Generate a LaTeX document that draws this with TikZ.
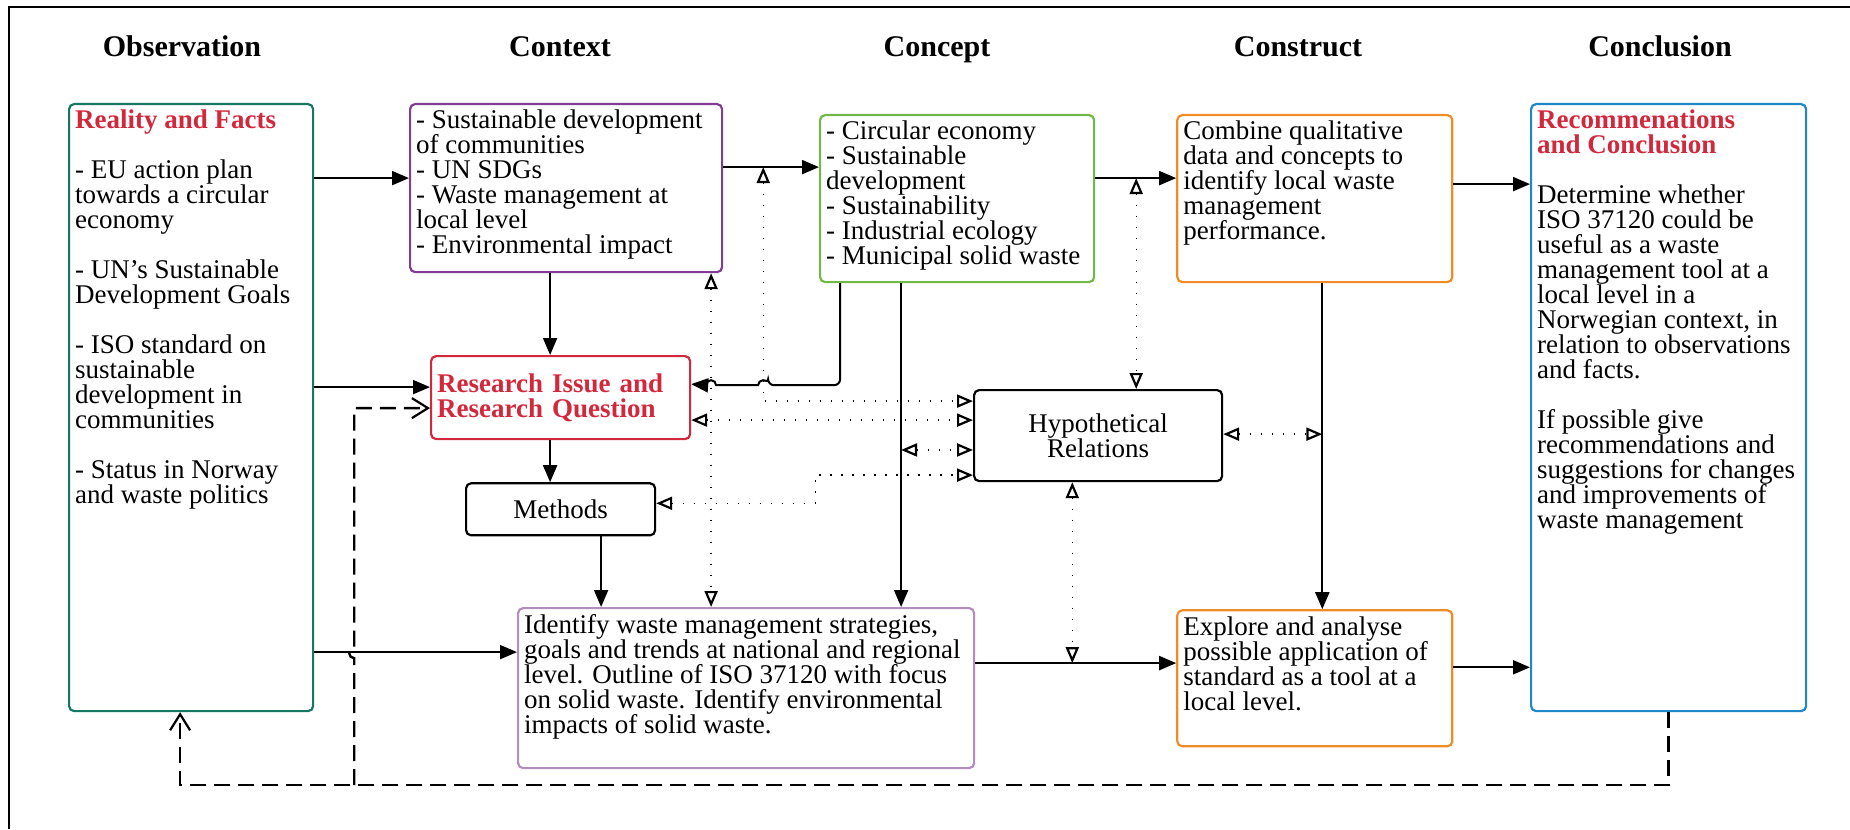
\documentclass[tikz,border=0pt]{standalone}
\usepackage{fontspec}
\setmainfont{Liberation Serif}
\usepackage{tikz}
\usetikzlibrary{arrows.meta, positioning, calc}

\definecolor{obsgreen}{RGB}{22,120,98}
\definecolor{ctxpurple}{RGB}{130,60,150}
\definecolor{cptgreen}{RGB}{112,185,70}
\definecolor{cstorange}{RGB}{240,140,40}
\definecolor{conblue}{RGB}{30,135,200}
\definecolor{resred}{RGB}{210,40,60}
\definecolor{idlilac}{RGB}{180,140,190}

\newcommand{\bodyfont}{\fontsize{13.5}{12.5}\selectfont\lineskiplimit=-5pt}
\newcommand{\boxtxt}[3]{\parbox[t][#2][t]{#1}{\raggedright #3}}

\begin{document}
\begin{tikzpicture}[
    x=0.5pt, y=-0.5pt,
    blk/.style={draw, rectangle, rounded corners=2.5pt, line width=1.1pt, inner sep=3pt, anchor=north west, font=\bodyfont},
    head/.style={anchor=base, font=\fontsize{15}{18}\selectfont\bfseries},
    arr/.style={-{Triangle[length=8.5pt, width=7pt]}, line width=1pt},
    hyprel/.style={{Triangle[open, length=8pt, width=6.5pt, line width=1.1pt]}-{Triangle[open, length=8pt, width=6.5pt, line width=1.1pt]}, line width=0.7pt, dash pattern=on 0.7pt off 4.8pt},
    feedback/.style={-{Straight Barb[length=8pt, width=10pt, line width=1.1pt]}, line width=1.2pt, dash pattern=on 8pt off 4pt},
]
    \useasboundingbox (0,0) rectangle (1850,829);
    \draw[line width=1pt] (9,829) |- (1850,7);

    \node[head] (tobs) at (182,57)  {Observation};
    \node[head] (tctx) at (560,57)  {Context};
    \node[head] (tcpt) at (937,57)  {Concept};
    \node[head] (tcst) at (1298,57) {Construct};
    \node[head] (tcon) at (1660,57) {Conclusion};

    \node[blk, draw=obsgreen] (reality) at (68,103) {\boxtxt{116pt}{297.5pt}{{\color{resred}\bfseries Reality and Facts}\\[12.5pt]- EU action plan\\towards a circular\\economy\\[12.5pt]- UN's Sustainable\\Development Goals\\[12.5pt]- ISO standard on\\sustainable\\development in\\communities\\[12.5pt]- Status in Norway\\and waste politics}};
    \node[blk, draw=ctxpurple] (context) at (409,103) {\boxtxt{150pt}{78pt}{- Sustainable development\\of communities\\- UN SDGs\\- Waste management at\\local level\\- Environmental impact}};
    \node[blk, draw=cptgreen] (concept) at (819,114) {\boxtxt{131pt}{77.5pt}{- Circular economy\\- Sustainable\\development\\- Sustainability\\- Industrial ecology\\- Municipal solid waste}};
    \node[blk, draw=cstorange, right=40.5pt of concept] (construct) {\boxtxt{131.5pt}{77.5pt}{Combine qualitative\\data and concepts to\\identify local waste\\management\\performance.}};
    \node[blk, draw=conblue] (conclusion) at (1530,103) {\boxtxt{131.5pt}{297.5pt}{{\color{resred}\bfseries Recommenations\\and Conclusion}\\[12.5pt]Determine whether\\ISO 37120 could be\\useful as a waste\\management tool at a\\local level in a\\Norwegian context, in\\relation to observations\\and facts.\\[12.5pt]If possible give\\recommendations and\\suggestions for changes\\and improvements of\\waste management}};
    \node[blk, draw=resred, text=resred, font=\bodyfont\bfseries, text width=123.5pt, minimum height=41.5pt, align=left] (research) at (430,355) {Research Issue and\\Research Question};
    \node[blk, draw=black, below=21pt of research, minimum width=94.5pt, minimum height=26pt] (methods) {Methods};
    \node[blk, draw=black, minimum width=124pt, minimum height=45.5pt, align=center] (hyp) at (973,389) {Hypothetical\\Relations};
    \node[blk, draw=idlilac] (identify) at (517,607) {\boxtxt{222pt}{74pt}{Identify waste management strategies,\\goals and trends at national and regional\\level. Outline of ISO 37120 with focus\\on solid waste. Identify environmental\\impacts of solid waste.}};
    \node[blk, draw=cstorange, below=163pt of construct] (explore) {\boxtxt{131.5pt}{62pt}{Explore and analyse\\possible application of\\standard as a tool at a\\local level.}};

    \draw[arr] ([yshift=5pt]context.west -| reality.east) -- ([yshift=5pt]context.west);
    \draw[arr] ([yshift=5.25pt]research.west -| reality.east) -- ([yshift=5.25pt]research.west);
    \draw[arr] ([yshift=18pt]identify.west -| reality.east) -- ([yshift=18pt]identify.west);
    \draw[arr] ([xshift=-8pt]context.south) -- ([xshift=-8pt]context.south |- research.north);
    \draw[arr] ([xshift=-5.25pt]research.south) -- ([xshift=-5.25pt]research.south |- methods.north);
    \draw[arr] ([xshift=20.25pt]methods.south) -- ([xshift=20.25pt]methods.south |- identify.north);
    \draw[arr] ([yshift=15.75pt]concept.west -| context.east) -- ([yshift=15.75pt]concept.west) coordinate[pos=0.418] (j1);
    \draw[arr] ([xshift=-58.5pt]concept.south) [rounded corners=3pt] -- ++(0,102) -- ++(-72,0) [sharp corners] arc[start angle=0, end angle=180, radius=2.5pt] -- ++(-42,0) arc[start angle=0, end angle=180, radius=2.5pt] -- ([yshift=6.75pt]research.east);
    \draw[arr] ([xshift=-28pt]concept.south) -- ([xshift=-28pt]concept.south |- identify.north) coordinate[pos=0.515] (j2);
    \draw[arr] ([yshift=10.25pt]concept.east) -- ([yshift=10.25pt]construct.west) coordinate[pos=0.506] (j3);
    \draw[arr] ([yshift=7.25pt]construct.east) -- ([yshift=7.25pt]construct.east -| conclusion.west);
    \draw[arr] ([xshift=3.75pt]construct.south) -- ([xshift=3.75pt]construct.south |- explore.north) coordinate[pos=0.463] (j4);
    \draw[arr] ([yshift=12.5pt]identify.east) -- ([yshift=12.5pt]identify.east -| explore.west) coordinate[pos=0.483] (j5);
    \draw[arr] ([yshift=5.5pt]explore.east) -- ([yshift=5.5pt]explore.east -| conclusion.west);

    \draw[hyprel] (j1) |- ([yshift=17.25pt]hyp.west);
    \draw[hyprel] ([xshift=72.5pt]context.south) -- ([xshift=72.5pt]context.south |- identify.north);
    \draw[hyprel] ([yshift=-11.25pt]research.east) -- ([yshift=-11.25pt]research.east -| hyp.west);
    \draw[hyprel] (j2) -- (j2 -| hyp.west);
    \draw[hyprel] ([yshift=3pt]methods.east) -- ++(159,0) |- ([yshift=-19.75pt]hyp.west);
    \draw[hyprel] (j3) -- (j3 |- hyp.north);
    \draw[hyprel] (hyp.east |- j4) -- (j4);
    \draw[hyprel] (j5 |- hyp.south) -- (j5);

    \draw[feedback] (conclusion.south) -- ++(0,73) coordinate (fb0) -| ([xshift=-5.5pt]reality.south);
    \draw[feedback] ([xshift=20pt]reality.east |- fb0) -- ++(0,-127) arc[start angle=-90, end angle=-270, radius=2.5pt] |- ([yshift=-5.25pt]research.west);
\end{tikzpicture}
\end{document}
